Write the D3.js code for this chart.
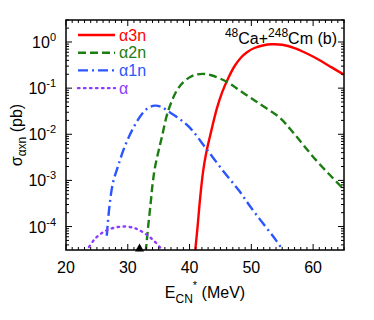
<!DOCTYPE html>
<html>
<head>
<meta charset="utf-8">
<script src="https://cdn.jsdelivr.net/npm/d3@7"></script>
<style>
  body { margin: 0; background: #fff; }
  text { font-family: "Liberation Sans", Arial, sans-serif; }
</style>
</head>
<body>
<script>
// données (log10 de sigma en pb)
const e3n = [40.9, 41.3, 41.7, 42.2, 42.7, 43.3, 44.4, 45.3, 46.2, 47.3, 48.3, 49.3, 50.5, 52, 53.3, 55, 57, 59, 61, 63, 65];
const s3n = [-4.55, -4.0, -3.4, -2.8, -2.4, -2.05, -1.45, -1.08, -0.8, -0.52, -0.34, -0.22, -0.13, -0.07, -0.05, -0.06, -0.13, -0.25, -0.39, -0.55, -0.71];

const e2n = [32.9, 33.3, 33.7, 34.0, 34.4, 35.0, 35.5, 36.5, 37.9, 39, 40.1, 41, 42.2, 43.5, 46, 48, 50, 52, 54.6, 57, 60.4, 65];
const s2n = [-4.55, -4.0, -3.5, -3.1, -2.72, -2.35, -2.07, -1.51, -1.06, -0.87, -0.76, -0.71, -0.69, -0.72, -0.86, -1.04, -1.22, -1.4, -1.64, -2.0, -2.55, -3.2];

const e1n = [26.6, 27.0, 27.6, 28.4, 29.5, 30.9, 32.3, 33.3, 34.4, 35.5, 36.5, 38, 40, 42.8, 45.7, 48, 50, 52, 54, 55.3];
const s1n = [-4.2, -3.6, -3.05, -2.7, -2.27, -1.86, -1.56, -1.43, -1.38, -1.41, -1.5, -1.63, -1.85, -2.33, -2.84, -3.22, -3.6, -3.95, -4.3, -4.55];

const e0n = [23.2, 24.6, 25.5, 26.6, 28, 29.5, 31, 32, 33, 34, 35.2, 35.6];
const s0n = [-4.55, -4.28, -4.17, -4.08, -4.02, -4.0, -4.03, -4.09, -4.17, -4.28, -4.45, -4.55];

const series = [
  { nom: "α3n", e: e3n, s: s3n, couleur: "#ff0000", tirets: null },
  { nom: "α2n", e: e2n, s: s2n, couleur: "#1c7d12", tirets: "8,4" },
  { nom: "α1n", e: e1n, s: s1n, couleur: "#2b55ff", tirets: "10,4,2,4" },
  { nom: "α", e: e0n, s: s0n, couleur: "#8a3dff", tirets: "1.5,4.5" }
];

const xTicks = [20, 30, 40, 50, 60];
const yExp = [0, -1, -2, -3, -4];
const triangleE = 31.9;

const W = 374, H = 320;
const mg = { left: 66, right: 344, top: 20, bottom: 250 };

const svg = d3.select("body").append("svg")
  .attr("width", W).attr("height", H);

const x = d3.scaleLinear().domain([20, 65]).range([mg.left, mg.right]);
const y = d3.scaleLog().domain([3.1e-5, 3]).range([mg.bottom, mg.top]);

// zone de tracé
svg.append("clipPath").attr("id", "clip")
  .append("rect").attr("x", mg.left).attr("y", mg.top)
  .attr("width", mg.right - mg.left).attr("height", mg.bottom - mg.top);

const line = d3.line()
  .x(d => x(d[0]))
  .y(d => y(Math.pow(10, d[1])))
  .curve(d3.curveCatmullRom.alpha(0.5));

const pointille = s => s.nom === "α";

const courbes = svg.append("g").attr("clip-path", "url(#clip)");
series.forEach(s => {
  courbes.append("path")
    .datum(s.e.map((v, i) => [v, s.s[i]]))
    .attr("d", line)
    .attr("fill", "none")
    .attr("stroke", s.couleur)
    .attr("stroke-width", 2.4)
    .attr("stroke-dasharray", s.tirets)
    .attr("stroke-linecap", pointille(s) ? "round" : "butt");
});

// axes : ticks vers l'intérieur
const xMinor = d3.range(20, 66, 1);
const tk = svg.append("g").attr("stroke", "#000").attr("stroke-width", 1);
xMinor.forEach(v => {
  const L = v % 10 === 0 ? 6 : 3;
  tk.append("line").attr("x1", x(v)).attr("x2", x(v)).attr("y1", mg.bottom).attr("y2", mg.bottom - L);
  tk.append("line").attr("x1", x(v)).attr("x2", x(v)).attr("y1", mg.top).attr("y2", mg.top + L);
});
const yMinor = [];
for (let p = -5; p <= 0; p++) {
  for (let k = 1; k <= 9; k++) {
    const v = k * Math.pow(10, p);
    if (v >= 3.1e-5 && v <= 3) yMinor.push({ v: v, major: k === 1 });
  }
}
yMinor.forEach(d => {
  const L = d.major ? 6 : 3;
  tk.append("line").attr("x1", mg.left).attr("x2", mg.left + L).attr("y1", y(d.v)).attr("y2", y(d.v));
  tk.append("line").attr("x1", mg.right).attr("x2", mg.right - L).attr("y1", y(d.v)).attr("y2", y(d.v));
});

svg.append("rect")
  .attr("x", mg.left).attr("y", mg.top)
  .attr("width", mg.right - mg.left).attr("height", mg.bottom - mg.top)
  .attr("fill", "none").attr("stroke", "#000").attr("stroke-width", 1.5);

// labels x
svg.selectAll(".xl").data(xTicks).enter().append("text")
  .attr("x", d => x(d)).attr("y", 273)
  .attr("text-anchor", "middle").attr("font-size", 16)
  .text(d => d);

// labels y
yExp.forEach(p => {
  const t = svg.append("text")
    .attr("x", 56).attr("y", y(Math.pow(10, p)) + 6)
    .attr("text-anchor", "end").attr("font-size", 16);
  t.append("tspan").text("10");
  t.append("tspan").attr("dy", -7).attr("font-size", 11).text(p === 0 ? "0" : "-" + (-p));
});

// titre x
const tx = svg.append("text").attr("x", 205).attr("y", 298)
  .attr("text-anchor", "middle").attr("font-size", 16);
tx.append("tspan").text("E");
tx.append("tspan").attr("dy", 5).attr("font-size", 12).text("CN");
tx.append("tspan").attr("dy", -14).attr("font-size", 11).text("*");
tx.append("tspan").attr("dy", 9).text(" (MeV)");

// titre y
const ty = svg.append("text")
  .attr("transform", "translate(22,135) rotate(-90)")
  .attr("text-anchor", "middle").attr("font-size", 16);
ty.append("tspan").text("σ");
ty.append("tspan").attr("dy", 4).attr("font-size", 12).text("αxn");
ty.append("tspan").attr("dy", -4).text(" (pb)");

// réaction
const tr = svg.append("text").attr("x", 337).attr("y", 44)
  .attr("text-anchor", "end").attr("font-size", 16);
tr.append("tspan").attr("dy", -7).attr("font-size", 12).text("48");
tr.append("tspan").attr("dy", 7).text("Ca+");
tr.append("tspan").attr("dy", -7).attr("font-size", 12).text("248");
tr.append("tspan").attr("dy", 7).text("Cm  (b)");

// légende
const leg = svg.append("g");
series.forEach((s, i) => {
  const yy = 35 + i * 17.7;
  leg.append("line").attr("x1", 78).attr("x2", 115).attr("y1", yy).attr("y2", yy)
    .attr("stroke", s.couleur).attr("stroke-width", 2.4)
    .attr("stroke-dasharray", s.tirets)
    .attr("stroke-linecap", pointille(s) ? "round" : "butt");
  leg.append("text").attr("x", 119).attr("y", yy + 5.5)
    .attr("font-size", 16).attr("fill", s.couleur).text(s.nom);
});

// triangle sur l'axe
const tri = d3.path();
tri.moveTo(x(triangleE) - 4.5, mg.bottom + 1.5);
tri.lineTo(x(triangleE) + 4.5, mg.bottom + 1.5);
tri.lineTo(x(triangleE), mg.bottom - 6.5);
tri.closePath();
svg.append("path").attr("d", tri.toString()).attr("fill", "#000");
</script>
</body>
</html>
